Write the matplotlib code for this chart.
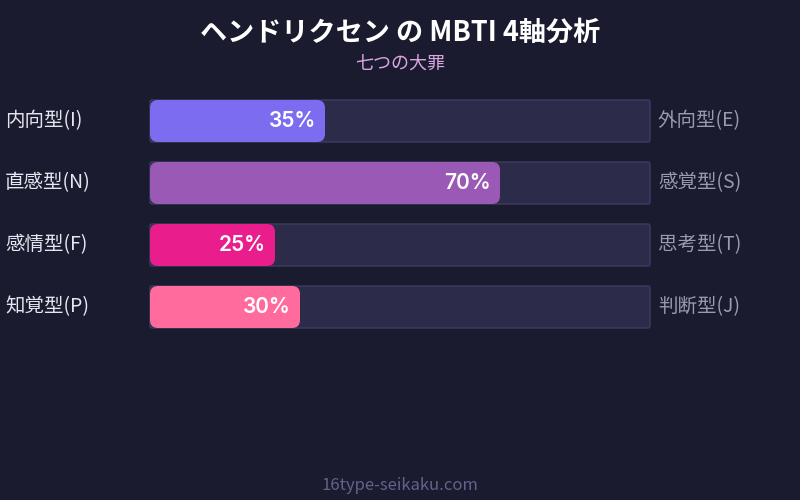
import matplotlib
matplotlib.use("Agg")
import matplotlib.pyplot as plt
from matplotlib.patches import FancyBboxPatch

plt.rcParams['font.family'] = ['Noto Sans CJK JP', 'DejaVu Sans']

title = "ヘンドリクセン の MBTI 4軸分析"
subtitle = "七つの大罪"
left_labels = ["内向型(I)", "直感型(N)", "感情型(F)", "知覚型(P)"]
right_labels = ["外向型(E)", "感覚型(S)", "思考型(T)", "判断型(J)"]
values = [35, 70, 25, 30]
colors = ["#7b6cf0", "#9b59b6", "#e91e8c", "#ff6b9d"]
footer = "16type-seikaku.com"

BG = "#1a1b2e"
W, H = 800, 500
fig = plt.figure(figsize=(8, 5), dpi=100, facecolor=BG)

# bar area: x 150..650 px, y 100..328 px
row_px = 62.0
bar_px = 42.0
ax = fig.add_axes([150 / W, (H - 328) / H, 500 / W, 228 / H])
ax.set_facecolor(BG)
ax.set_xlim(0, 100)
h = bar_px / row_px
ax.set_ylim(len(values) - 1 + h / 2, -h / 2)
ax.axis('off')

px_x = 100 / 500.0  # data units per pixel in x
asp = (1 / row_px) / px_x

for i, (v, c) in enumerate(zip(values, colors)):
    track = FancyBboxPatch((0, i - h / 2), 100, h,
                           boxstyle=f"round,pad=0,rounding_size={2 * px_x}",
                           mutation_aspect=asp, facecolor="#2d2b4a",
                           edgecolor="#3e3c60", linewidth=1, clip_on=False)
    ax.add_patch(track)
    bar = FancyBboxPatch((0, i - h / 2), v, h,
                         boxstyle=f"round,pad=0,rounding_size={8 * px_x}",
                         mutation_aspect=asp, facecolor=c, edgecolor="none",
                         clip_on=False)
    ax.add_patch(bar)
    ax.annotate(f"{v}%", xy=(v, i), xytext=(-9, 0), textcoords="offset pixels",
                ha="right", va="center", color="white", fontsize=15,
                fontweight="semibold", family=['Inter', 'DejaVu Sans'])
    ax.annotate(left_labels[i], xy=(5, i), xycoords=("figure pixels", "data"),
                ha="left", va="center", color="#e6e6f0", fontsize=14)
    ax.annotate(right_labels[i], xy=(658, i), xycoords=("figure pixels", "data"),
                ha="left", va="center", color="#9a9ab0", fontsize=14)

fig.text(0.5, 1 - 33 / H, title, ha="center", va="center", color="white",
         fontsize=19.5, fontweight="bold")
fig.text(0.5, 1 - 64 / H, subtitle, ha="center", va="center", color="#d9a6e0",
         fontsize=13)
fig.text(0.5, 1 - 485 / H, footer, ha="center", va="center", color="#62628a",
         fontsize=12)

fig.savefig("out.png", dpi=100, facecolor=BG)
